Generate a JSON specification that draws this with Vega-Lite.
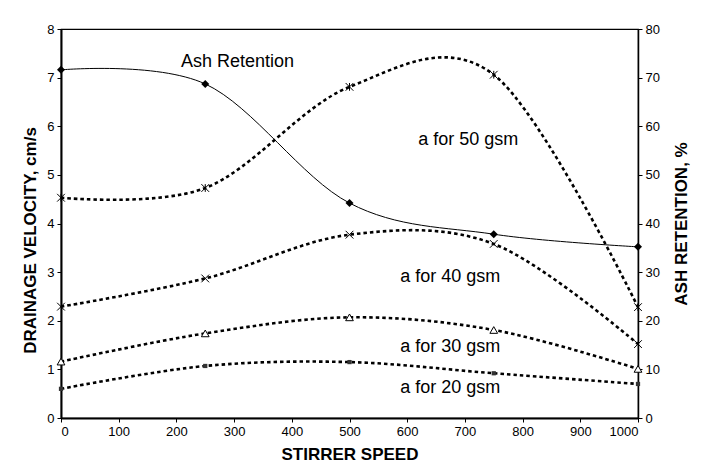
{
  "$schema": "https://vega.github.io/schema/vega-lite/v6.json",
  "width": 577,
  "height": 389,
  "autosize": {"type": "none"},
  "padding": {"left": 61, "top": 29, "right": 68, "bottom": 58},
  "background": "white",
  "config": {
    "font": "Liberation Sans",
    "view": {"stroke": "black", "strokeWidth": 1.2},
    "axis": {
      "grid": false,
      "domainColor": "black",
      "domainWidth": 2,
      "tickColor": "black",
      "tickSize": 4,
      "tickWidth": 1,
      "labelFont": "Liberation Sans",
      "labelFontSize": 13,
      "labelColor": "black",
      "labelPadding": 3,
      "titleFont": "Liberation Sans",
      "titleFontSize": 17,
      "titleFontWeight": "bold",
      "titleColor": "black"
    }
  },
  "datasets": {
    "gsm": [
      {"series": "50 gsm", "speed": 0, "v": 4.53},
      {"series": "50 gsm", "speed": 250, "v": 4.73},
      {"series": "50 gsm", "speed": 500, "v": 6.81},
      {"series": "50 gsm", "speed": 750, "v": 7.06},
      {"series": "50 gsm", "speed": 1000, "v": 2.28},
      {"series": "40 gsm", "speed": 0, "v": 2.29},
      {"series": "40 gsm", "speed": 250, "v": 2.87},
      {"series": "40 gsm", "speed": 500, "v": 3.77},
      {"series": "40 gsm", "speed": 750, "v": 3.58},
      {"series": "40 gsm", "speed": 1000, "v": 1.52},
      {"series": "30 gsm", "speed": 0, "v": 1.16},
      {"series": "30 gsm", "speed": 250, "v": 1.74},
      {"series": "30 gsm", "speed": 500, "v": 2.07},
      {"series": "30 gsm", "speed": 750, "v": 1.81},
      {"series": "30 gsm", "speed": 1000, "v": 1.01},
      {"series": "20 gsm", "speed": 0, "v": 0.6},
      {"series": "20 gsm", "speed": 250, "v": 1.07},
      {"series": "20 gsm", "speed": 500, "v": 1.15},
      {"series": "20 gsm", "speed": 750, "v": 0.92},
      {"series": "20 gsm", "speed": 1000, "v": 0.7}
    ],
    "ash": [
      {"speed": 0, "ash": 71.6},
      {"speed": 250, "ash": 68.7},
      {"speed": 500, "ash": 44.2},
      {"speed": 750, "ash": 37.8},
      {"speed": 1000, "ash": 35.2}
    ],
    "labels": [
      {"label": "Ash Retention", "speed": 208, "v": 7.33},
      {"label": "a for 50 gsm", "speed": 619, "v": 5.72},
      {"label": "a for 40 gsm", "speed": 588, "v": 2.9},
      {"label": "a for 30 gsm", "speed": 588, "v": 1.46},
      {"label": "a for 20 gsm", "speed": 588, "v": 0.62}
    ]
  },
  "layer": [
    {
      "layer": [
        {
          "data": {"name": "gsm"},
          "mark": {"type": "line", "interpolate": "cardinal", "strokeDash": [3.5, 3], "strokeWidth": 2.6, "color": "black"},
          "encoding": {
            "x": {"field": "speed", "type": "quantitative", "scale": {"domain": [0, 1000], "nice": false}, "axis": {"values": [0,100,200,300,400,500,600,700,800,900,1000], "format": "d", "title": "STIRRER SPEED", "titlePadding": 8}},
            "y": {"field": "v", "type": "quantitative", "scale": {"domain": [0, 8], "nice": false}, "axis": {"orient": "left", "values": [0,1,2,3,4,5,6,7,8], "title": "DRAINAGE VELOCITY, cm/s", "titleAngle": -90, "titleX": -31, "titleY": 211, "titleAlign": "center", "titleBaseline": "middle"}},
            "detail": {"field": "series"}
          }
        },
        {
          "data": {"name": "gsm"},
          "transform": [{"filter": "datum.series != '20 gsm'"}],
          "mark": {"type": "point", "filled": true, "fill": "white", "stroke": "black", "strokeWidth": 1, "opacity": 1},
          "encoding": {
            "x": {"field": "speed", "type": "quantitative"},
            "y": {"field": "v", "type": "quantitative"},
            "shape": {"field": "series", "type": "nominal", "scale": {"domain": ["50 gsm", "40 gsm", "30 gsm"], "range": ["M-1,-1L1,1M1,-1L-1,1M0,-1L0,1", "M-1,-1L1,1M1,-1L-1,1", "triangle-up"]}, "legend": null},
            "size": {"value": 60}
          }
        },
        {
          "data": {"name": "gsm"},
          "transform": [{"filter": "datum.series == '20 gsm'"}],
          "mark": {"type": "point", "shape": "square", "filled": true, "color": "#333", "size": 18, "opacity": 1},
          "encoding": {
            "x": {"field": "speed", "type": "quantitative"},
            "y": {"field": "v", "type": "quantitative"}
          }
        },
        {
          "data": {"name": "labels"},
          "mark": {"type": "text", "align": "left", "baseline": "middle", "fontSize": 18, "font": "Liberation Sans", "color": "black"},
          "encoding": {
            "x": {"field": "speed", "type": "quantitative"},
            "y": {"field": "v", "type": "quantitative"},
            "text": {"field": "label"}
          }
        }
      ]
    },
    {
      "data": {"name": "ash"},
      "layer": [
        {
          "mark": {"type": "line", "interpolate": "cardinal", "strokeWidth": 1, "color": "black"},
          "encoding": {
            "x": {"field": "speed", "type": "quantitative"},
            "y": {"field": "ash", "type": "quantitative", "scale": {"domain": [0, 80], "nice": false}, "axis": {"orient": "right", "values": [0,10,20,30,40,50,60,70,80], "title": "ASH RETENTION, %", "titleAngle": -90, "titleX": 43, "titleY": 194.5, "titleAlign": "center", "titleBaseline": "middle", "domainWidth": 1.5}}
          }
        },
        {
          "mark": {"type": "point", "shape": "diamond", "filled": true, "color": "black", "size": 64, "opacity": 1},
          "encoding": {
            "x": {"field": "speed", "type": "quantitative"},
            "y": {"field": "ash", "type": "quantitative"}
          }
        }
      ]
    }
  ],
  "resolve": {"scale": {"y": "independent"}}
}
